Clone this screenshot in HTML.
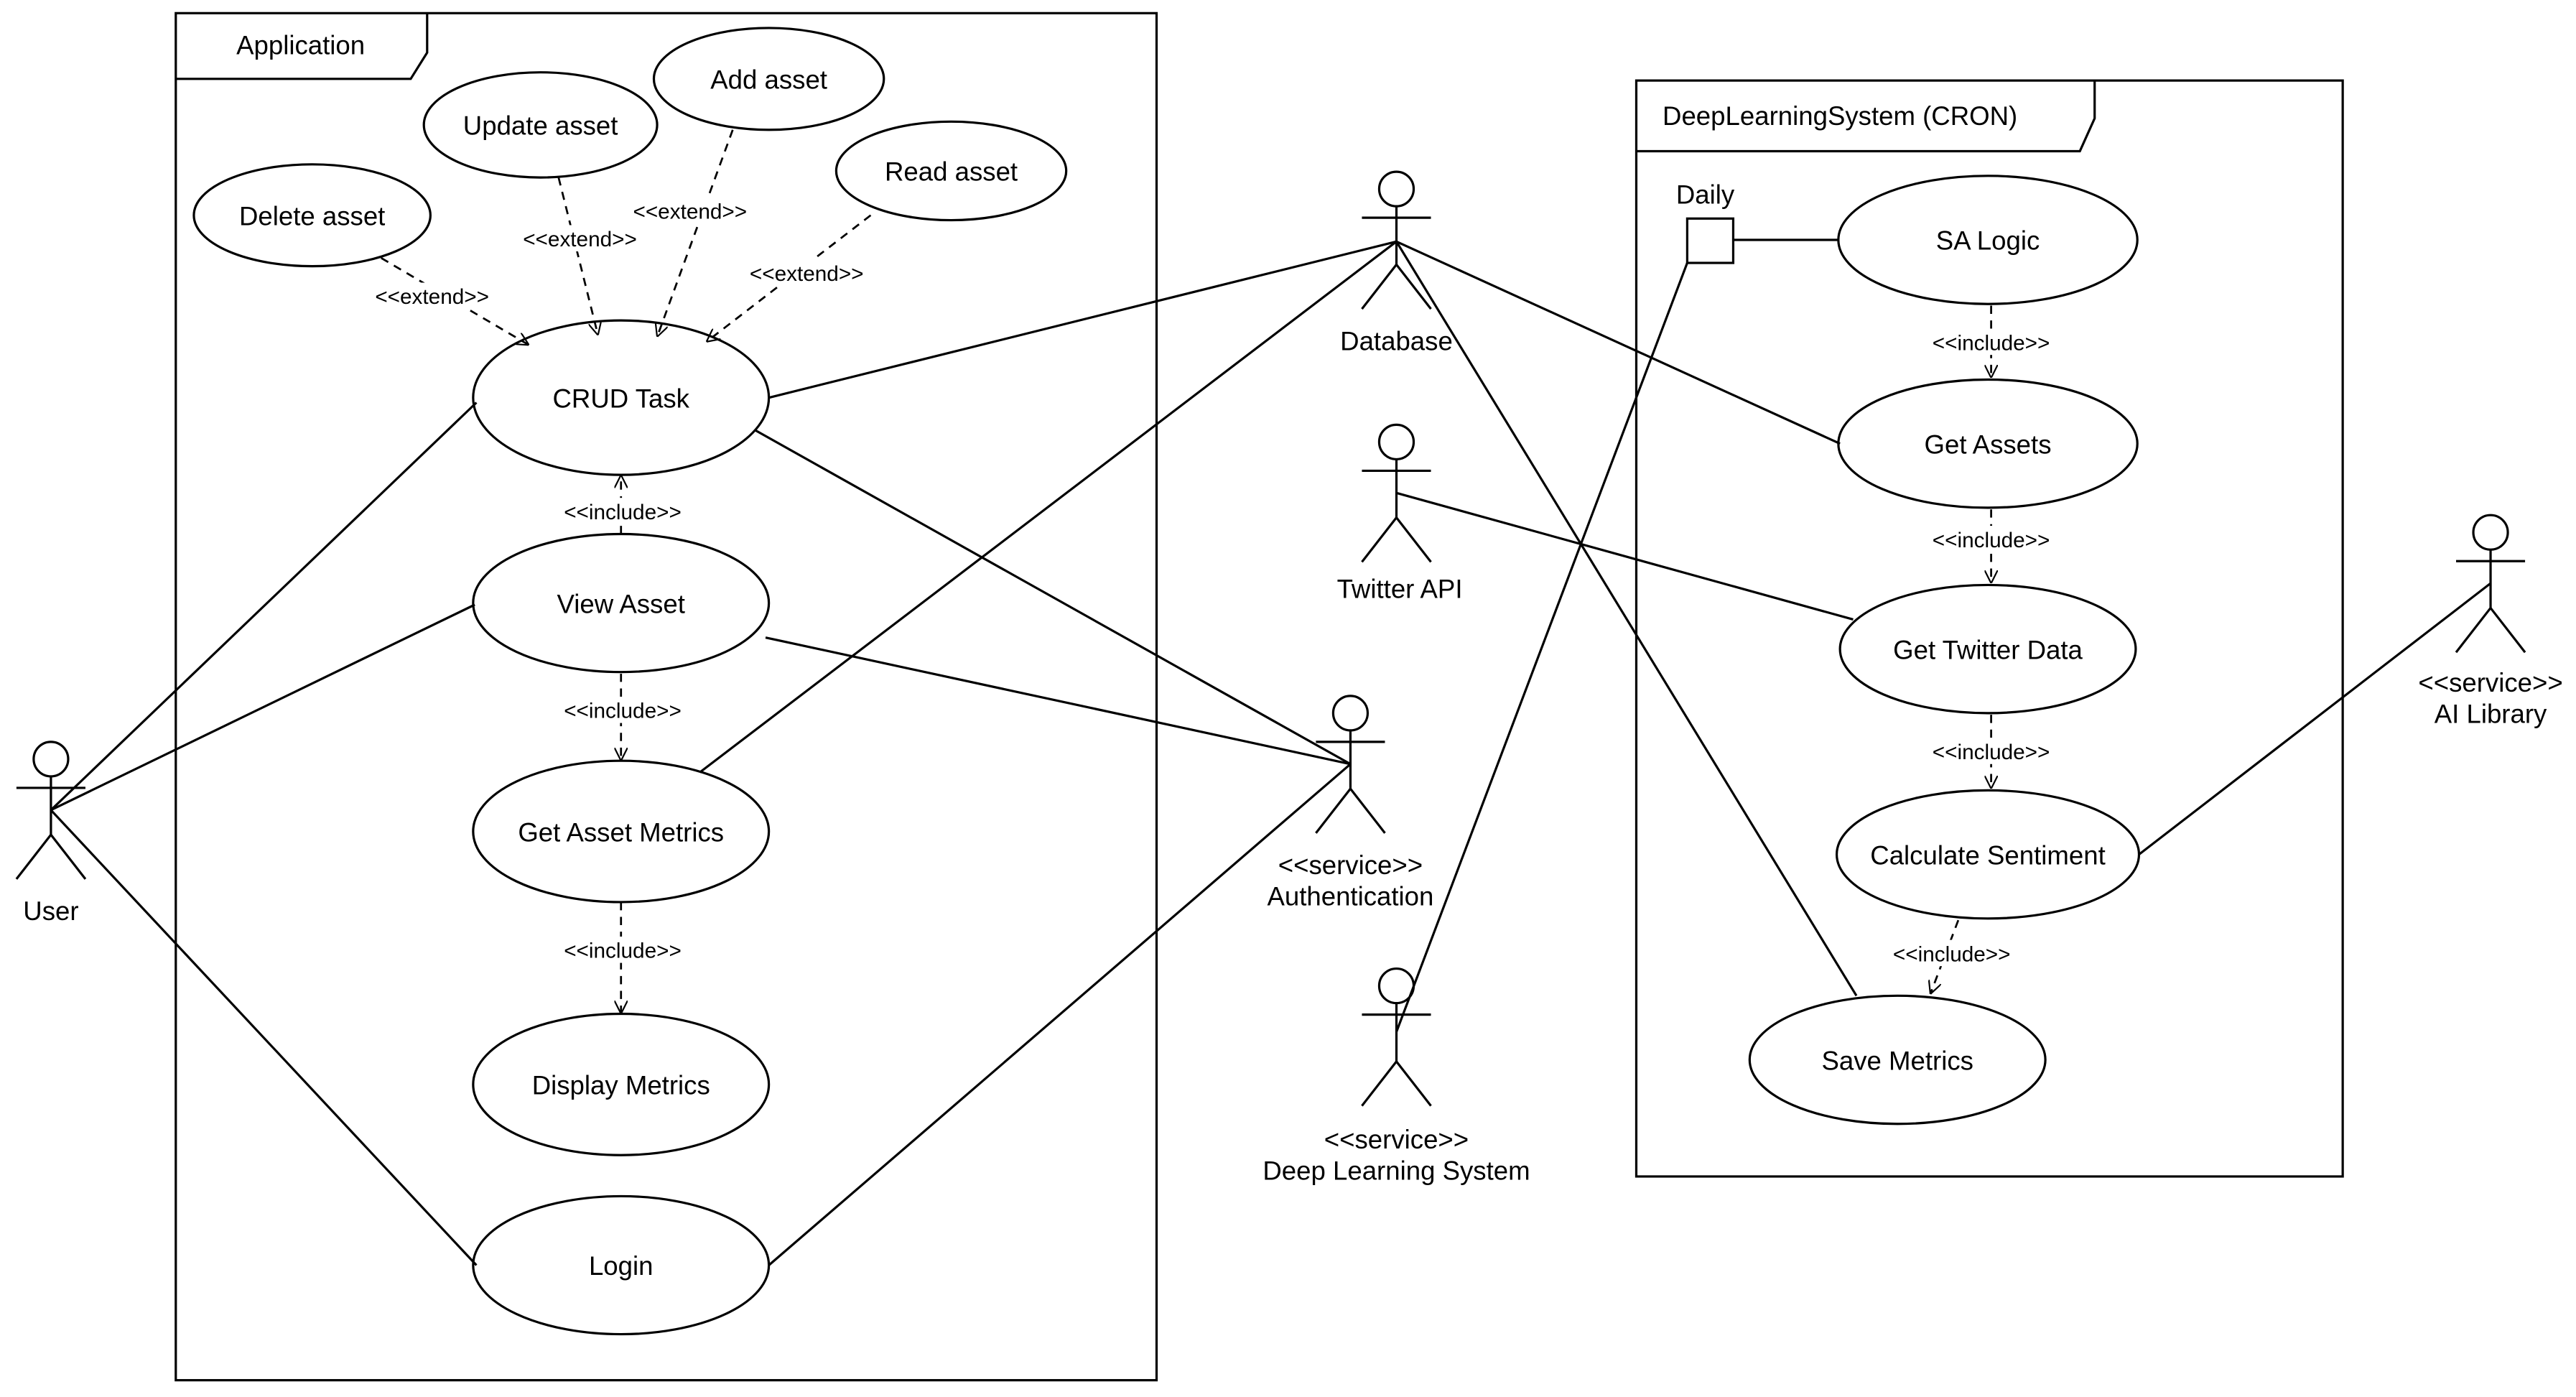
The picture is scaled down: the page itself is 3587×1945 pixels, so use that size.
<!DOCTYPE html>
<html><head><meta charset="utf-8"><style>
html,body{margin:0;padding:0;background:#fff;}
svg{display:block;}
text{font-family:"Liberation Sans",Arial,sans-serif;fill:#000;}
</style></head><body>
<svg width="3587" height="1945" viewBox="0 0 1568 850.2" xmlns="http://www.w3.org/2000/svg">
<defs>
<marker id="ah" viewBox="0 0 10 10" refX="10" refY="5" markerWidth="8" markerHeight="8" orient="auto" markerUnits="userSpaceOnUse">
<path d="M0,0 L10,5 L0,10" fill="none" stroke="#000" stroke-width="1.2"/>
</marker>
</defs>
<g fill="none" stroke="#000" stroke-width="1.4">
<!-- frames -->
<rect x="107" y="8" width="597" height="832"/>
<path d="M107,48 L250,48 L260,32 L260,8"/>
<rect x="996" y="49" width="430" height="667"/>
<path d="M996,92 L1266,92 L1275,72 L1275,49"/>
<!-- ellipses -->
<ellipse cx="329" cy="76" rx="71" ry="32"/>
<ellipse cx="468" cy="48" rx="70" ry="31"/>
<ellipse cx="579" cy="104" rx="70" ry="30"/>
<ellipse cx="190" cy="131" rx="72" ry="31"/>
<ellipse cx="378" cy="242" rx="90" ry="47"/>
<ellipse cx="378" cy="367" rx="90" ry="42"/>
<ellipse cx="378" cy="506" rx="90" ry="43"/>
<ellipse cx="378" cy="660" rx="90" ry="43"/>
<ellipse cx="378" cy="770" rx="90" ry="42"/>
<ellipse cx="1210" cy="146" rx="91" ry="39"/>
<ellipse cx="1210" cy="270" rx="91" ry="39"/>
<ellipse cx="1210" cy="395" rx="90" ry="39"/>
<ellipse cx="1210" cy="520" rx="92" ry="39"/>
<ellipse cx="1155" cy="645" rx="90" ry="39"/>
<rect x="1027" y="133" width="28" height="27"/>
<line x1="1055" y1="146" x2="1119" y2="146"/>
<!-- associations -->
<line x1="31" y1="493" x2="290" y2="245"/>
<line x1="31" y1="493" x2="289" y2="368"/>
<line x1="31" y1="493" x2="290" y2="770"/>
<line x1="468" y1="242" x2="850" y2="147"/>
<line x1="460" y1="262" x2="822" y2="465"/>
<line x1="466" y1="388" x2="822" y2="465"/>
<line x1="426" y1="470" x2="850" y2="147"/>
<line x1="468" y1="770" x2="822" y2="465"/>
<line x1="850" y1="147" x2="1120" y2="270"/>
<line x1="850" y1="147" x2="1130" y2="606"/>
<line x1="850" y1="300" x2="1128" y2="377"/>
<line x1="850" y1="628" x2="1027" y2="160"/>
<line x1="1516" y1="355" x2="1302" y2="520"/>
</g>
<!-- dashed -->
<g fill="none" stroke="#000" stroke-width="1.2" stroke-dasharray="5,4" marker-end="url(#ah)">
<line x1="232" y1="157" x2="322" y2="210"/>
<line x1="340" y1="108" x2="364" y2="204"/>
<line x1="446" y1="79" x2="400" y2="205"/>
<line x1="530" y1="131" x2="430" y2="208"/>
<line x1="378" y1="325" x2="378" y2="289"/>
<line x1="378" y1="410" x2="378" y2="463"/>
<line x1="378" y1="549" x2="378" y2="617"/>
<line x1="1212" y1="186" x2="1212" y2="230"/>
<line x1="1212" y1="310" x2="1212" y2="355"/>
<line x1="1212" y1="435" x2="1212" y2="480"/>
<line x1="1192" y1="560" x2="1175" y2="605"/>
</g>
<!-- label backgrounds -->
<g fill="#fff">
<rect x="222" y="172" width="82" height="16"/>
<rect x="312" y="137" width="82" height="16"/>
<rect x="378" y="120" width="84" height="16"/>
<rect x="449" y="158" width="84" height="16"/>
<rect x="336" y="303" width="86" height="16"/>
<rect x="336" y="424" width="86" height="16"/>
<rect x="336" y="570" width="86" height="16"/>
<rect x="1168" y="200" width="88" height="16"/>
<rect x="1168" y="320" width="88" height="16"/>
<rect x="1168" y="449" width="88" height="16"/>
<rect x="1144" y="572" width="88" height="16"/>
</g>
<!-- actors -->
<g fill="none" stroke="#000" stroke-width="1.4">
<g transform="translate(31,462)"><circle cx="0" cy="0" r="10.5"/><line x1="0" y1="10.5" x2="0" y2="46"/><line x1="-21" y1="17.5" x2="21" y2="17.5"/><path d="M-21,73 L0,46 L21,73"/></g>
<g transform="translate(850,115)"><circle cx="0" cy="0" r="10.5"/><line x1="0" y1="10.5" x2="0" y2="46"/><line x1="-21" y1="17.5" x2="21" y2="17.5"/><path d="M-21,73 L0,46 L21,73"/></g>
<g transform="translate(850,269)"><circle cx="0" cy="0" r="10.5"/><line x1="0" y1="10.5" x2="0" y2="46"/><line x1="-21" y1="17.5" x2="21" y2="17.5"/><path d="M-21,73 L0,46 L21,73"/></g>
<g transform="translate(822,434)"><circle cx="0" cy="0" r="10.5"/><line x1="0" y1="10.5" x2="0" y2="46"/><line x1="-21" y1="17.5" x2="21" y2="17.5"/><path d="M-21,73 L0,46 L21,73"/></g>
<g transform="translate(850,600)"><circle cx="0" cy="0" r="10.5"/><line x1="0" y1="10.5" x2="0" y2="46"/><line x1="-21" y1="17.5" x2="21" y2="17.5"/><path d="M-21,73 L0,46 L21,73"/></g>
<g transform="translate(1516,324)"><circle cx="0" cy="0" r="10.5"/><line x1="0" y1="10.5" x2="0" y2="46"/><line x1="-21" y1="17.5" x2="21" y2="17.5"/><path d="M-21,73 L0,46 L21,73"/></g>
</g>
<!-- text -->
<g font-size="16" text-anchor="middle">
<text x="183" y="33">Application</text>
<text x="1120" y="76">DeepLearningSystem (CRON)</text>
<text x="329" y="82">Update asset</text>
<text x="468" y="54">Add asset</text>
<text x="579" y="110">Read asset</text>
<text x="190" y="137">Delete asset</text>
<text x="378" y="248">CRUD Task</text>
<text x="378" y="373">View Asset</text>
<text x="378" y="512">Get Asset Metrics</text>
<text x="378" y="666">Display Metrics</text>
<text x="378" y="776">Login</text>
<text x="1210" y="152">SA Logic</text>
<text x="1210" y="276">Get Assets</text>
<text x="1210" y="401">Get Twitter Data</text>
<text x="1210" y="526">Calculate Sentiment</text>
<text x="1155" y="651">Save Metrics</text>
<text x="1038" y="124">Daily</text>
<text x="31" y="560">User</text>
<text x="850" y="213">Database</text>
<text x="852" y="364">Twitter API</text>
<text x="822" y="532">&lt;&lt;service&gt;&gt;</text>
<text x="822" y="551">Authentication</text>
<text x="850" y="699">&lt;&lt;service&gt;&gt;</text>
<text x="850" y="718">Deep Learning System</text>
<text x="1516" y="421">&lt;&lt;service&gt;&gt;</text>
<text x="1516" y="440">AI Library</text>
</g>
<g font-size="13" text-anchor="middle">
<text x="263" y="185">&lt;&lt;extend&gt;&gt;</text>
<text x="353" y="150">&lt;&lt;extend&gt;&gt;</text>
<text x="420" y="133">&lt;&lt;extend&gt;&gt;</text>
<text x="491" y="171">&lt;&lt;extend&gt;&gt;</text>
<text x="379" y="316">&lt;&lt;include&gt;&gt;</text>
<text x="379" y="437">&lt;&lt;include&gt;&gt;</text>
<text x="379" y="583">&lt;&lt;include&gt;&gt;</text>
<text x="1212" y="213">&lt;&lt;include&gt;&gt;</text>
<text x="1212" y="333">&lt;&lt;include&gt;&gt;</text>
<text x="1212" y="462">&lt;&lt;include&gt;&gt;</text>
<text x="1188" y="585">&lt;&lt;include&gt;&gt;</text>
</g>
</svg>
</body></html>
